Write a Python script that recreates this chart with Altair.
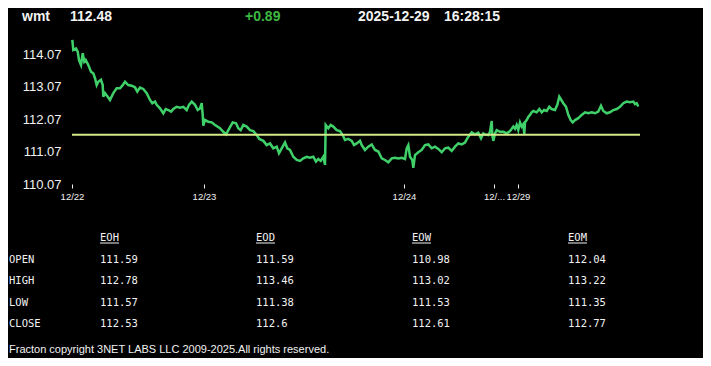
import altair as alt
import pandas as pd

# ---------------- data ----------------
symbol = "wmt"
last_price = "112.48"
change = "+0.89"
date_str = "2025-12-29"
time_str = "16:28:15"
prev_close = 111.59

t_vals = [0.3, 1.3, 4.0, 5.7, 7.0, 9.0, 10.7, 12.3, 13.7, 16.3, 19.0, 21.3, 23.0, 24.7, 26.3,
          29.0, 30.7, 31.3, 33.0, 35.7, 38.0, 41.3, 44.7, 48.0, 50.3, 53.0, 56.3, 59.7, 63.0,
          65.3, 68.0, 71.3, 74.7, 78.0, 80.3, 83.0, 84.7, 88.0, 91.3, 93.7, 96.3, 99.0, 101.3,
          104.7, 108.0, 111.3, 114.7, 117.0, 119.7, 123.0, 125.7, 128.0, 129.7, 130.7, 131.3,
          133.0, 136.3, 139.7, 143.0, 148.0, 151.3, 154.0, 156.3, 160.7, 164.0, 166.3, 168.7,
          171.3, 174.7, 178.0, 181.3, 184.7, 187.3, 191.3, 194.7, 198.0, 201.3, 204.7, 207.0,
          209.7, 213.0, 215.3, 218.0, 221.3, 224.7, 228.0, 231.3, 234.7, 238.0, 241.3, 244.0,
          246.3, 248.7, 251.3, 253.0, 253.7, 256.3, 258.7, 261.3, 264.7, 268.0, 270.7, 273.0,
          276.3, 279.7, 282.0, 284.7, 288.0, 289.7, 293.0, 296.3, 299.7, 303.0, 306.3, 309.7,
          313.0, 316.3, 319.7, 323.0, 326.3, 329.7, 333.0, 334.7, 336.3, 338.0, 340.3, 341.3,
          343.0, 346.3, 349.7, 353.0, 356.3, 359.7, 363.0, 366.3, 369.7, 373.0, 376.3, 379.7,
          383.0, 386.3, 389.7, 393.0, 396.3, 399.7, 403.0, 406.3, 409.0, 411.3, 413.0, 416.3,
          418.0, 419.7, 420.3, 421.3, 423.0, 424.7, 428.0, 431.3, 434.7, 438.0, 441.3, 443.0,
          444.7, 446.3, 448.0, 449.7, 451.3, 452.3, 453.0, 454.7, 456.3, 458.0, 459.7, 461.3,
          464.7, 467.3, 469.7, 472.0, 474.7, 477.3, 479.7, 483.0, 485.3, 487.3, 488.7, 491.3,
          494.0, 496.3, 498.7, 500.7, 503.0, 506.3, 509.7, 513.0, 516.3, 519.7, 523.0, 526.3,
          529.0, 531.3, 534.7, 538.0, 541.3, 544.7, 548.0, 551.3, 554.7, 558.0, 561.3, 563.0,
          564.7, 566.3]

prices = [114.51, 114.20, 114.25, 114.15, 113.89, 113.74, 114.10, 113.84, 113.89, 113.74,
          113.53, 113.48, 113.33, 113.12, 113.22, 113.28, 113.12, 112.76, 112.87, 112.76,
          112.66, 112.87, 113.02, 113.02, 113.10, 113.22, 113.12, 113.10, 113.05, 112.92,
          113.04, 113.00, 112.87, 112.66, 112.56, 112.61, 112.51, 112.40, 112.25, 112.38,
          112.35, 112.30, 112.38, 112.45, 112.42, 112.45, 112.35, 112.51, 112.61, 112.51,
          112.35, 112.40, 112.56, 112.20, 111.87, 112.04, 111.99, 111.97, 111.89, 111.79,
          111.68, 111.60, 111.73, 111.97, 111.94, 111.79, 111.73, 111.89, 111.84, 111.73,
          111.70, 111.58, 111.46, 111.40, 111.27, 111.32, 111.17, 111.22, 111.02, 111.17,
          111.35, 111.17, 111.12, 110.91, 110.81, 110.78, 110.86, 110.91, 110.88, 110.91,
          110.76, 110.84, 110.78, 110.91, 110.66, 111.89, 111.79, 111.89, 111.84, 111.73,
          111.70, 111.58, 111.43, 111.46, 111.40, 111.27, 111.32, 111.40, 111.27, 111.12,
          111.22, 111.29, 111.12, 111.07, 110.86, 110.81, 110.74, 110.86, 110.88, 110.86,
          110.88, 110.84, 111.17, 111.27, 110.91, 110.81, 110.57, 110.96, 111.05, 111.12,
          111.27, 111.29, 111.17, 111.22, 111.15, 111.05, 111.17, 111.19, 111.09, 111.22,
          111.32, 111.29, 111.35, 111.53, 111.66, 111.60, 111.65, 111.48, 111.63, 111.60,
          111.58, 111.68, 112.01, 111.58, 111.40, 111.63, 111.73, 111.68, 111.68, 111.63,
          111.70, 111.84, 111.77, 111.89, 111.73, 111.97, 111.84, 111.91, 111.61, 111.97,
          112.04, 112.14, 112.20, 112.28, 112.32, 112.28, 112.38, 112.28, 112.35, 112.32,
          112.45, 112.38, 112.35, 112.51, 112.76, 112.69, 112.56, 112.45, 112.20, 112.04,
          111.97, 112.04, 112.10, 112.20, 112.28, 112.25, 112.28, 112.25, 112.30, 112.48,
          112.32, 112.25, 112.28, 112.35, 112.38, 112.45, 112.56, 112.61, 112.59, 112.61,
          112.53, 112.56, 112.46]

x_extent = [0, 568]
y_extent = [110.07, 114.57]
tick_vals = [0, 132, 332, 422, 446]
tick_labels = ["12/22", "12/23", "12/24", "12/...", "12/29"]
y_ticks = [110.07, 111.07, 112.07, 113.07, 114.07]

periods = ["EOH", "EOD", "EOW", "EOM"]
fields = ["OPEN", "HIGH", "LOW", "CLOSE"]
eoh = ["111.59", "112.78", "111.57", "112.53"]
eod = ["111.59", "113.46", "111.38", "112.6"]
eow = ["110.98", "113.02", "111.53", "112.61"]
eom = ["112.04", "113.22", "111.35", "112.77"]

copyright_text = "Fracton copyright 3NET LABS LLC 2009-2025.All rights reserved."

# ---------------- frames ----------------
line_df = pd.DataFrame({"t": t_vals, "price": prices, "i": list(range(len(t_vals)))})
ref_df = pd.DataFrame({"t": [x_extent[0]], "t2": [x_extent[1]], "price": [prev_close]})

cols = {"EOH": eoh, "EOD": eod, "EOW": eow, "EOM": eom}
val_rows = []
for p in periods:
    for f, v in zip(fields, cols[p]):
        val_rows.append({"col": p, "row": f, "text": v})
    val_rows.append({"col": p, "row": "head", "text": p})
val_df = pd.DataFrame(val_rows)
head_df = pd.DataFrame({"col": periods, "row": ["head"] * len(periods)})
lab_df = pd.DataFrame({"row": fields, "text": fields})

WHITE = "#f2f2f2"
GREEN = "#3fd06a"
YELLOW = "#d4e98a"

label_expr = ""
for v, l in zip(tick_vals, tick_labels):
    label_expr += f"datum.value == {v} ? '{l}' : "
label_expr += "''"

x_axis = alt.Axis(values=tick_vals, labelExpr=label_expr, domain=False, grid=False,
                  tickColor=WHITE, tickSize=4, tickWidth=1, labelColor=WHITE,
                  labelFont="Liberation Sans", labelFontSize=9.5, labelPadding=3,
                  labelFlush=False, labelOverlap=False, title=None)
y_axis = alt.Axis(values=y_ticks, format=".2f", domain=False, grid=False, ticks=False,
                  labelColor=WHITE, labelFont="Liberation Sans", labelFontSize=13,
                  labelPadding=11, labelFlush=False, labelOverlap=False, title=None)
x_scale = alt.Scale(domain=x_extent, nice=False, zero=False)
y_scale = alt.Scale(domain=y_extent, nice=False, zero=False)

line = alt.Chart(line_df).mark_line(color=GREEN, strokeWidth=2.5).encode(
    x=alt.X("t:Q", scale=x_scale, axis=x_axis),
    y=alt.Y("price:Q", scale=y_scale, axis=y_axis),
    order="i:Q",
)
ref = alt.Chart(ref_df).mark_rule(color=YELLOW, strokeWidth=2).encode(
    x=alt.X("t:Q", scale=x_scale, axis=x_axis),
    x2="t2:Q",
    y=alt.Y("price:Q", scale=y_scale, axis=y_axis),
)
plot = alt.layer(line, ref)

col_scale = alt.Scale(domain=periods, range=[28, 496], type="point", padding=0)
row_scale = alt.Scale(domain=["head"] + fields, range=[200, 286], type="point", padding=0)

mono = dict(font="DejaVu Sans Mono", fontSize=10.5, color=WHITE, align="left", baseline="middle")
values = alt.Chart(val_df).mark_text(**mono).encode(
    x=alt.X("col:N", scale=col_scale, axis=None),
    y=alt.Y("row:N", scale=row_scale, axis=None),
    text="text:N",
)
underline = alt.Chart(head_df).mark_tick(
    orient="horizontal", size=19, thickness=1, xOffset=9.5, yOffset=5, color=WHITE, opacity=1
).encode(
    x=alt.X("col:N", scale=col_scale, axis=None),
    y=alt.Y("row:N", scale=row_scale, axis=None),
)
labels = alt.Chart(lab_df).mark_text(**mono).encode(
    x=alt.value(-63),
    y=alt.Y("row:N", scale=row_scale, axis=None),
    text="text:N",
)
table = alt.layer(values, underline, labels)

hdr = dict(font="Liberation Sans", fontSize=14, fontWeight="bold", align="left", baseline="middle")
def header_text(txt, xpos, color):
    return alt.Chart(pd.DataFrame({"v": [txt]})).mark_text(color=color, **hdr).encode(
        x=alt.value(xpos), y=alt.value(-21), text="v:N"
    )

headers = [
    header_text(symbol, -50, WHITE),
    header_text(last_price, -2, WHITE),
    header_text(change, 173, "#3cb843"),
    header_text(date_str, 286, WHITE),
    header_text(time_str, 372, WHITE),
]

footer = alt.Chart(pd.DataFrame({"v": [copyright_text]})).mark_text(
    font="Liberation Sans", fontSize=11, color=WHITE, align="left", baseline="middle"
).encode(x=alt.value(-63), y=alt.value(312), text="v:N")

chart = alt.layer(plot, table, *headers, footer).resolve_scale(
    x="independent", y="independent"
).properties(
    width=568,
    height=146,
    autosize=alt.AutoSizeParams(type="none"),
    padding={"left": 64, "top": 30, "right": 63, "bottom": 174},
    background="black",
).configure_view(stroke=None)

chart.save("out.html", embed_options={"renderer": "svg", "actions": False})
